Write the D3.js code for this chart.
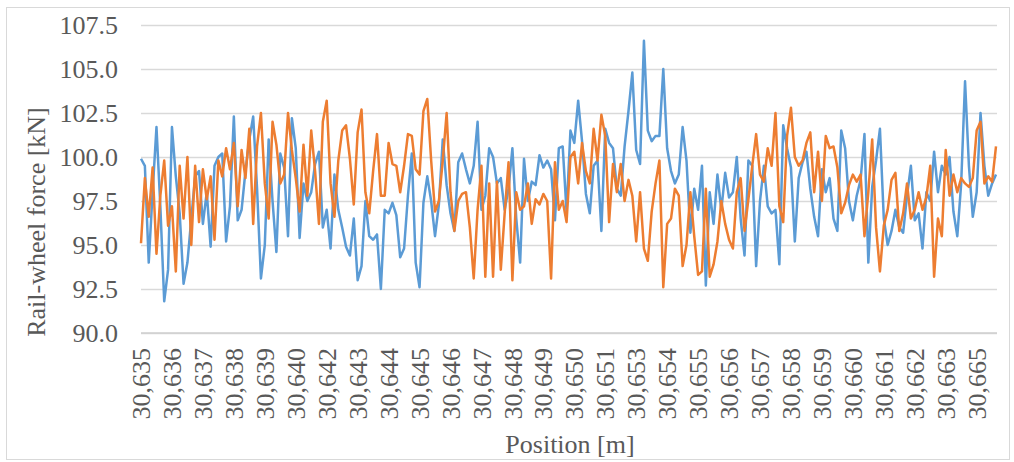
<!DOCTYPE html>
<meta charset="utf-8">

<head>
    <title>Rail-wheel force</title>
</head>

<style>
    body {
        margin: 0;
        background: #fff;
    }

    text {
        font-family: "Liberation Serif", "Times New Roman", serif;
        fill: #595959;
        font-size: 26px;
    }
</style>

<body>
    <svg></svg>

    <script src="https://cdn.jsdelivr.net/npm/d3@7"></script>
    <script>

        // Data (one value per position sample)
        var blueForce = [
            99.9, 99.5, 94.0, 98.0, 101.7, 97.2, 91.8, 93.6, 101.7, 98.9,
            96.8, 92.8, 94.0, 96.5, 98.9, 99.2, 96.2, 98.0, 94.9, 99.5,
            100.0, 100.2, 95.2, 97.2, 102.3, 96.4, 97.0, 99.2, 101.0, 102.3,
            98.2, 93.1, 95.0, 101.0, 97.5, 94.6, 100.2, 99.4, 95.5, 102.2,
            100.5, 95.4, 98.5, 97.5, 98.0, 99.6, 100.3, 96.0, 97.0, 94.8,
            99.0, 97.0, 96.0, 94.9, 94.4, 96.5, 93.0, 93.8, 97.5, 95.5,
            95.3, 95.6, 92.5, 97.0, 96.8, 97.4, 96.7, 94.3, 94.8, 97.8,
            100.2, 94.0, 92.6, 97.4, 98.9, 97.5, 95.5, 97.3, 101.0, 98.4,
            96.8, 95.8, 99.7, 100.2, 99.3, 98.5, 99.5, 102.0, 97.0, 97.8,
            100.5, 100.0, 98.5, 98.8, 97.0, 98.2, 100.5, 96.5, 94.0, 99.9,
            97.5, 98.6, 98.4, 100.1, 99.4, 99.8, 99.3, 96.4, 100.5, 100.6,
            96.9, 101.5, 100.8, 103.2, 100.9, 97.9, 96.8, 99.5, 99.8, 95.8,
            101.6, 100.8, 100.5, 98.2, 97.8, 100.6, 102.6, 104.8, 100.4, 99.6,
            106.6, 101.5, 100.9, 101.2, 101.2, 105.0, 100.5, 99.2, 98.5, 99.0,
            101.7, 99.8, 95.7, 98.2, 97.0, 99.5, 92.7, 98.0, 96.2, 99.0,
            97.0, 99.1, 97.7, 98.0, 100.0, 96.5, 94.4, 99.8, 99.5, 93.8,
            97.5, 99.5, 97.2, 96.8, 97.0, 93.9, 101.8, 100.5, 99.4, 95.2,
            98.8, 99.7, 100.3, 98.2, 96.6, 95.5, 99.3, 98.0, 98.8, 96.5,
            95.8, 101.5, 100.5, 97.5, 96.4, 97.8, 98.7, 101.3, 94.0, 98.3,
            99.8, 101.6, 96.5, 95.0, 95.8, 97.0, 96.0, 95.7, 97.8, 99.5,
            96.4, 96.8, 94.8, 98.0, 97.5, 100.3, 98.0, 99.5, 99.0, 100.0,
            96.9, 95.5, 98.5, 104.3, 99.5, 96.6, 98.0, 102.5, 99.5, 97.8,
            98.5, 99.0
        ];

        var orangeForce = [
            95.1, 98.8, 96.6, 99.4, 94.5, 97.8, 99.8, 96.1, 97.2, 93.5,
            99.5, 96.5, 100.0, 95.0, 99.5, 96.3, 99.3, 97.6, 98.9, 95.3,
            99.8, 98.9, 100.5, 99.3, 100.8, 97.2, 100.4, 98.8, 101.6, 96.2,
            100.6, 102.5, 98.5, 96.5, 102.0, 100.7, 98.5, 99.0, 102.5, 100.4,
            98.8, 96.9, 100.7, 97.8, 101.5, 99.2, 96.2, 102.0, 103.2, 98.5,
            96.6, 99.8, 101.5, 101.8, 99.9, 97.3, 101.4, 102.7, 98.0, 96.8,
            99.2, 101.3, 97.8, 97.8, 100.8, 99.6, 99.5, 98.0, 99.5, 101.3,
            101.2, 99.3, 99.0, 102.6, 103.3, 99.8, 96.9, 97.5, 99.8, 102.5,
            98.0, 95.8, 97.5, 97.9, 98.0, 96.0, 93.1, 97.0, 99.5, 93.2,
            98.5, 93.2, 98.6, 93.6, 96.8, 99.7, 93.0, 98.0, 97.0, 97.2,
            98.5, 96.2, 97.6, 97.3, 97.9, 97.5, 93.1, 99.7, 97.0, 97.5,
            96.3, 100.0, 100.3, 98.5, 100.8, 99.2, 98.5, 101.6, 99.8, 102.4,
            101.2, 96.3, 99.6, 98.0, 99.6, 97.5, 98.7, 97.8, 95.2, 98.0,
            94.8, 94.1, 96.9, 98.5, 99.8, 92.6, 96.2, 96.5, 98.2, 97.8,
            93.8, 95.0, 98.0, 95.5, 93.3, 93.5, 98.2, 93.2, 93.9, 95.2,
            97.5, 96.2, 95.3, 94.8, 98.0, 98.8, 95.8, 97.6, 99.5, 101.3,
            99.0, 98.6, 100.5, 99.5, 102.5, 97.2, 96.3, 101.2, 102.8, 100.0,
            99.5, 99.8, 100.8, 101.4, 98.0, 100.3, 97.5, 101.2, 100.5, 100.6,
            99.4, 96.8, 97.4, 98.4, 99.0, 98.6, 99.0, 95.5, 98.0, 101.0,
            96.0, 93.5, 96.1, 97.0, 98.7, 99.1, 95.8, 96.8, 98.5, 96.5,
            97.0, 98.0, 97.0, 97.7, 99.5, 93.2, 96.5, 95.5, 100.4, 97.8,
            99.0, 98.0, 98.8, 98.5, 98.3, 98.8, 101.5, 102.0, 98.5, 98.9,
            98.6, 100.6
        ];

        // Category labels shown on the x axis (one every 8 samples)
        var positionLabels = [
            "30,635", "30,636", "30,637", "30,638", "30,639", "30,640", "30,642",
            "30,643", "30,644", "30,645", "30,646", "30,647", "30,648", "30,649",
            "30,650", "30,651", "30,653", "30,654", "30,655", "30,656", "30,657",
            "30,658", "30,659", "30,660", "30,661", "30,662", "30,663", "30,665"
        ];
        var labelEvery = 8;

        var yTicks = [90, 92.5, 95, 97.5, 100, 102.5, 105, 107.5];

        // Configuration
        var width = 1014;
        var height = 462;
        var plot = { left: 141, right: 996, top: 25, bottom: 333 };

        const svg = d3.select('svg')
            .attr('width', width)
            .attr('height', height);

        // Chart border
        svg.append('rect')
            .attr('x', 6.5)
            .attr('y', 7.5)
            .attr('width', 1003)
            .attr('height', 452)
            .attr('fill', 'none')
            .attr('stroke', '#d9d9d9')
            .attr('stroke-width', 1);

        const x = d3.scalePoint()
            .domain(d3.range(blueForce.length))
            .range([plot.left, plot.right]);

        const y = d3.scaleLinear()
            .domain([90, 107.5])
            .range([plot.bottom, plot.top]);

        // Gridlines + y labels
        const yAxis = d3.axisLeft(y)
            .tickValues(yTicks)
            .tickFormat(d3.format('.1f'))
            .tickSize(-(plot.right - plot.left + 1))
            .tickPadding(23);

        svg.append('g')
            .attr('transform', `translate(${plot.left}, 0)`)
            .call(yAxis)
            .call(g => g.select('.domain').remove())
            .call(g => g.selectAll('line')
                .attr('stroke', '#d9d9d9')
                .attr('stroke-width', 1.4))
            .call(g => g.selectAll('text')
                .attr('fill', '#595959')
                .style('font-size', '26px')
                .style('font-family', '"Liberation Serif", serif'));

        // x axis line
        svg.append('line')
            .attr('x1', plot.left)
            .attr('x2', plot.right + 1)
            .attr('y1', y(90))
            .attr('y2', y(90))
            .attr('stroke', '#cfcfcf')
            .attr('stroke-width', 1.4);

        // x labels, rotated
        svg.append('g')
            .selectAll('text')
            .data(positionLabels)
            .enter()
            .append('text')
            .attr('transform', (d, i) => `translate(${x(i * labelEvery)}, 348) rotate(-90)`)
            .attr('text-anchor', 'end')
            .attr('dy', '0.35em')
            .text(d => d);

        // Lines
        const line = d3.line()
            .x((d, i) => x(i))
            .y(d => y(d));

        svg.append('path')
            .datum(blueForce)
            .attr('d', line)
            .attr('fill', 'none')
            .attr('stroke', '#5b9bd5')
            .attr('stroke-width', 2.5)
            .attr('stroke-linejoin', 'round');

        svg.append('path')
            .datum(orangeForce)
            .attr('d', line)
            .attr('fill', 'none')
            .attr('stroke', '#ed7d31')
            .attr('stroke-width', 2.5)
            .attr('stroke-linejoin', 'round');

        // Axis titles
        svg.append('text')
            .attr('x', 570)
            .attr('y', 453)
            .attr('text-anchor', 'middle')
            .text('Position [m]');

        svg.append('text')
            .attr('transform', 'translate(45, 222) rotate(-90)')
            .attr('text-anchor', 'middle')
            .text('Rail-wheel force [kN]');

    </script>

</body>

</html>
